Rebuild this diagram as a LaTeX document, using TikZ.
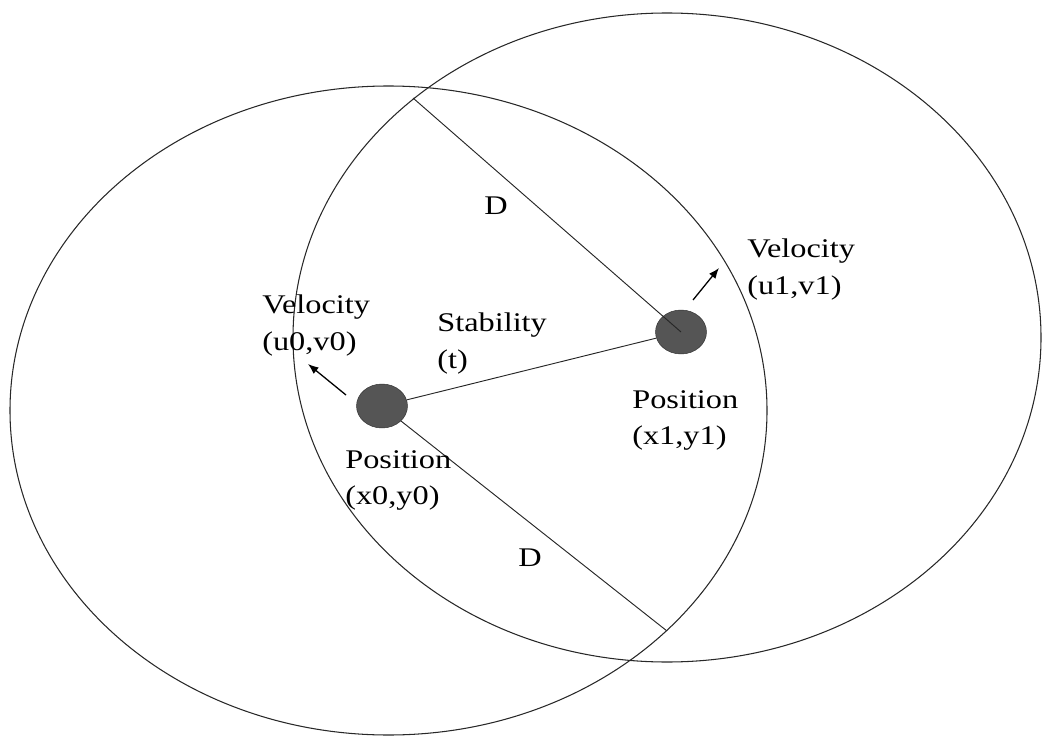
\documentclass[tikz,border=0pt]{standalone}
\usepackage{fontspec}
\setmainfont{Liberation Serif}
\usepackage{tikz}
\usetikzlibrary{arrows.meta,positioning,shapes.geometric}
\definecolor{rangeline}{RGB}{40,40,40}
\definecolor{dotgray}{RGB}{85,85,85}

\tikzset{
  rangering/.style={draw=rangeline, line width=0.9pt},
  particle/.style={ellipse, draw=black!80, fill=dotgray, minimum width=1.53cm, minimum height=1.32cm, inner sep=0pt},
  lbl/.style={font=\fontsize{23}{31.5}\selectfont, align=left, inner sep=0pt, xscale=1.2},
  link/.style={draw=black!85, line width=0.8pt},
  velarrow/.style={draw=black, line width=1.1pt, -{Latex[length=9pt,width=7pt]}}
}

\begin{document}
\begin{tikzpicture}[x=0.03cm, y=-0.03cm]
\useasboundingbox (0,0) rectangle (1045,736);

% Two ranges
\draw[rangering] (388.5,410.5) ellipse [x radius=378.5, y radius=324.5];
\draw[rangering] (667,337.5) ellipse [x radius=374, y radius=324.5];

% Particles at the centres
\node[particle] (p0) at (382,406) {};
\node[particle] (p1) at (681,332) {};

% Radius lines and link
\coordinate (rim1) at (413,98);
\coordinate (rim0) at (667,631);
\draw[link] (p1.center) -- (rim1);
\draw[link] (p0) -- (rim0);
\draw[link] (p0) -- (p1);

% Velocity arrows
\coordinate (u0tail) at (346,395);
\coordinate (u0head) at (308,364);
\coordinate (u1tail) at (693,300);
\coordinate (u1head) at (719,268);
\draw[velarrow] (u0tail) -- (u0head);
\draw[velarrow] (u1tail) -- (u1head);

% Labels
\node[lbl, anchor=north west] (vel0) at (262,295) {Velocity\\(u0,v0)};
\node[lbl, anchor=north west] (stab) at (437,313) {Stability\\(t)};
\node[lbl, anchor=north west] (pos0) at (345,450) {Position\\(x0,y0)};
\node[lbl, anchor=north west] (pos1) at (632,390) {Position\\(x1,y1)};
\node[lbl, anchor=north west] (vel1) at (747,239) {Velocity\\(u1,v1)};
\node[lbl] (dtop) at (496,206) {D};
\node[lbl] (dbot) at (530,558) {D};
\end{tikzpicture}
\end{document}
